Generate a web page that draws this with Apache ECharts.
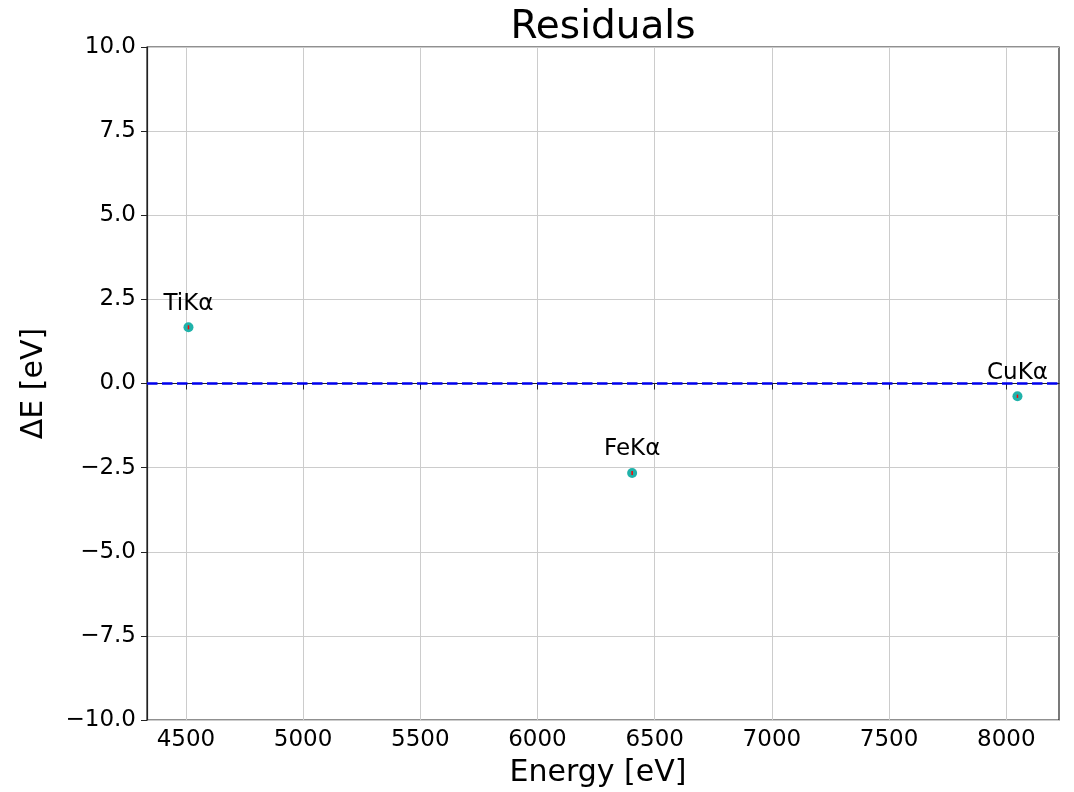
<!DOCTYPE html>
<html>
<head>
<meta charset="utf-8">
<script src="https://cdn.jsdelivr.net/npm/echarts@6/dist/echarts.min.js"></script>
<style>html,body{margin:0;padding:0;background:#fff}#c{width:1074px;height:792px}</style>
</head>
<body>
<div id="c"></div>
<script>
const lines = ['TiKα', 'FeKα', 'CuKα'];
const energies = [4510.9, 6403.8, 8047.8];
const residuals = [1.67, -2.66, -0.38];
const errors = [0.06, 0.06, 0.04];
const xTicks = [4500, 5000, 5500, 6000, 6500, 7000, 7500, 8000];
const yTicks = [-10, -7.5, -5, -2.5, 0, 2.5, 5, 7.5, 10];

const font = 'DejaVu Sans';
const pts = energies.map((e, i) => ({ value: [e, residuals[i]], name: lines[i] }));
const errData = energies.map((e, i) => [e, residuals[i] - errors[i], residuals[i] + errors[i]]);

const chart = echarts.init(document.getElementById('c'), null, { renderer: 'canvas' });
chart.setOption({
  animation: false,
  backgroundColor: '#fff',
  title: {
    text: 'Residuals', left: 598, textAlign: 'center', top: 3,
    textStyle: { fontFamily: font, fontSize: 39, fontWeight: 'normal', color: '#000' }
  },
  grid: { left: 147, right: 15, top: 47, bottom: 72, outerBoundsMode: 'none', containLabel: false,
    show: true, borderColor: '#222', borderWidth: 1.2, backgroundColor: 'transparent' },
  xAxis: {
    type: 'value', min: 4334, max: 8225,
    name: 'Energy [eV]', nameLocation: 'middle', nameGap: 38,
    nameTextStyle: { fontFamily: font, fontSize: 30, color: '#000', padding: [0, 10, 0, 0] },
    axisLine: { show: true, lineStyle: { color: '#222', width: 1.2 } },
    axisTick: { show: true, customValues: xTicks, length: 6, inside: false, lineStyle: { color: '#222' } },
    axisLabel: { customValues: xTicks, formatter: v => String(v), fontFamily: font, fontSize: 23, color: '#000', margin: 9 },
    splitLine: { show: true, lineStyle: { color: '#cccccc', width: 1 } }
  },
  yAxis: {
    type: 'value', min: -10, max: 10, interval: 2.5,
    name: 'ΔE [eV]', nameLocation: 'middle', nameGap: 98, nameRotate: 90,
    nameTextStyle: { fontFamily: font, fontSize: 30, color: '#000' },
    axisLine: { show: true, lineStyle: { color: '#222', width: 1.2 } },
    axisTick: { show: true, length: 6, lineStyle: { color: '#222' } },
    axisLabel: {
      fontFamily: font, fontSize: 23, color: '#000', margin: 11,
      formatter: v => (v < 0 ? '\u2212' : '') + Math.abs(v).toFixed(1)
    },
    splitLine: { show: true, lineStyle: { color: '#cccccc', width: 1 } }
  },
  series: [
    {
      type: 'line', data: [[4334, 0], [8225, 0]], symbol: 'none', silent: true,
      lineStyle: { color: '#0000ee', width: 2.5, type: [10.5, 4.5] }, z: 3
    },
    {
      type: 'scatter', data: pts, symbol: 'circle', symbolSize: 10,
      itemStyle: { color: '#20b2aa', opacity: 1 }, z: 4,
      label: {
        show: true, position: 'top', distance: 7, formatter: p => p.name,
        fontFamily: font, fontSize: 23, color: '#000'
      }
    },
    {
      type: 'custom', z: 5, data: errData,
      renderItem: (params, api) => {
        const x = api.value(0);
        const lo = api.coord([x, api.value(1)]);
        const hi = api.coord([x, api.value(2)]);
        return { type: 'line', shape: { x1: lo[0], y1: Math.max(lo[1], hi[1] + 3), x2: hi[0], y2: Math.min(hi[1], lo[1] - 3) }, style: { stroke: '#ff0000', lineWidth: 1.5 } };
      }
    }
  ]
});
</script>
</body>
</html>
